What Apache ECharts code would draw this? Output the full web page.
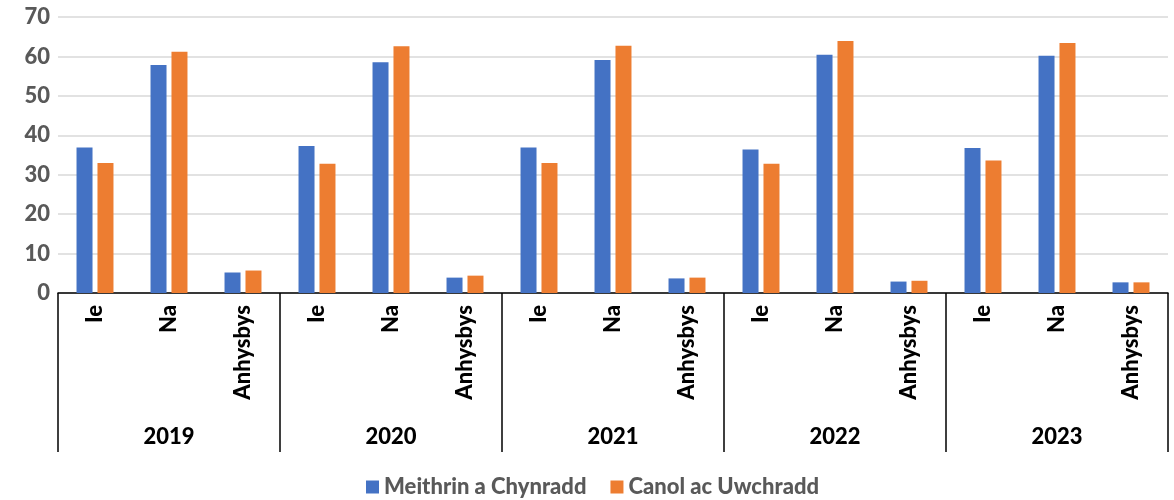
<!DOCTYPE html>
<html><head><meta charset="utf-8">
<script src="https://cdn.jsdelivr.net/npm/echarts@6/dist/echarts.min.js"></script>
<style>html,body{margin:0;padding:0;background:#fff}#c{width:1174px;height:500px}</style>
</head><body><div id="c"></div>
<script>
const years = ['2019','2020','2021','2022','2023'];
const answers = ['Ie','Na','Anhysbys'];
const seriesNames = ['Meithrin a Chynradd','Canol ac Uwchradd'];
const meithrin = [36.9,57.8,5.2, 37.3,58.5,3.9, 36.9,59.1,3.7, 36.4,60.4,2.9, 36.8,60.2,2.7];
const canol    = [33.0,61.2,5.7, 32.8,62.6,4.4, 33.0,62.7,3.9, 32.8,63.9,3.1, 33.6,63.4,2.7];
const yTicks = [0,10,20,30,40,50,60,70];

const cats = [];
years.forEach(y => answers.forEach(a => cats.push(a)));
const FONT = 'Lato';
const FS = 22;
const FW = 900;
const chart = echarts.init(document.getElementById('c'), null, {renderer:'canvas'});
chart.setOption({
  animation:false,
  textStyle:{fontFamily:FONT},
  grid:{left:58,right:6,top:17,bottom:207,containLabel:false},
  legend:{
    bottom:-3,left:361,itemWidth:13,itemHeight:13,itemGap:24,icon:'rect',
    textStyle:{fontFamily:FONT,fontWeight:FW,fontSize:FS,color:'#595959'},
    data:seriesNames
  },
  xAxis:[
    {type:'category',data:cats,boundaryGap:true,
     axisLine:{show:true,lineStyle:{color:'#000',width:1.5}},
     axisTick:{show:false},
     axisLabel:{interval:0,rotate:90,margin:12,fontFamily:FONT,fontWeight:FW,fontSize:FS,color:'#000'}},
    {type:'category',data:years,boundaryGap:true,position:'bottom',
     axisLine:{show:false},
     axisTick:{show:true,interval:0,length:159,lineStyle:{color:'#000',width:1.5}},
     axisLabel:{interval:0,margin:144,verticalAlign:'middle',fontFamily:FONT,fontWeight:FW,fontSize:FS,color:'#000'}}
  ],
  yAxis:{type:'value',min:yTicks[0],max:yTicks[yTicks.length-1],interval:10,
    axisLine:{show:false},axisTick:{show:false},
    splitLine:{lineStyle:{color:'#d9d9d9',width:1.5}},
    axisLabel:{margin:8,fontFamily:FONT,fontWeight:FW,fontSize:FS,color:'#595959'}},
  series:[
    {name:seriesNames[0],type:'bar',data:meithrin,barWidth:16,barGap:'31%',
     itemStyle:{color:'#4472C4'}},
    {name:seriesNames[1],type:'bar',data:canol,barWidth:16,barGap:'31%',
     itemStyle:{color:'#ED7D31'}}
  ]
});
</script></body></html>
